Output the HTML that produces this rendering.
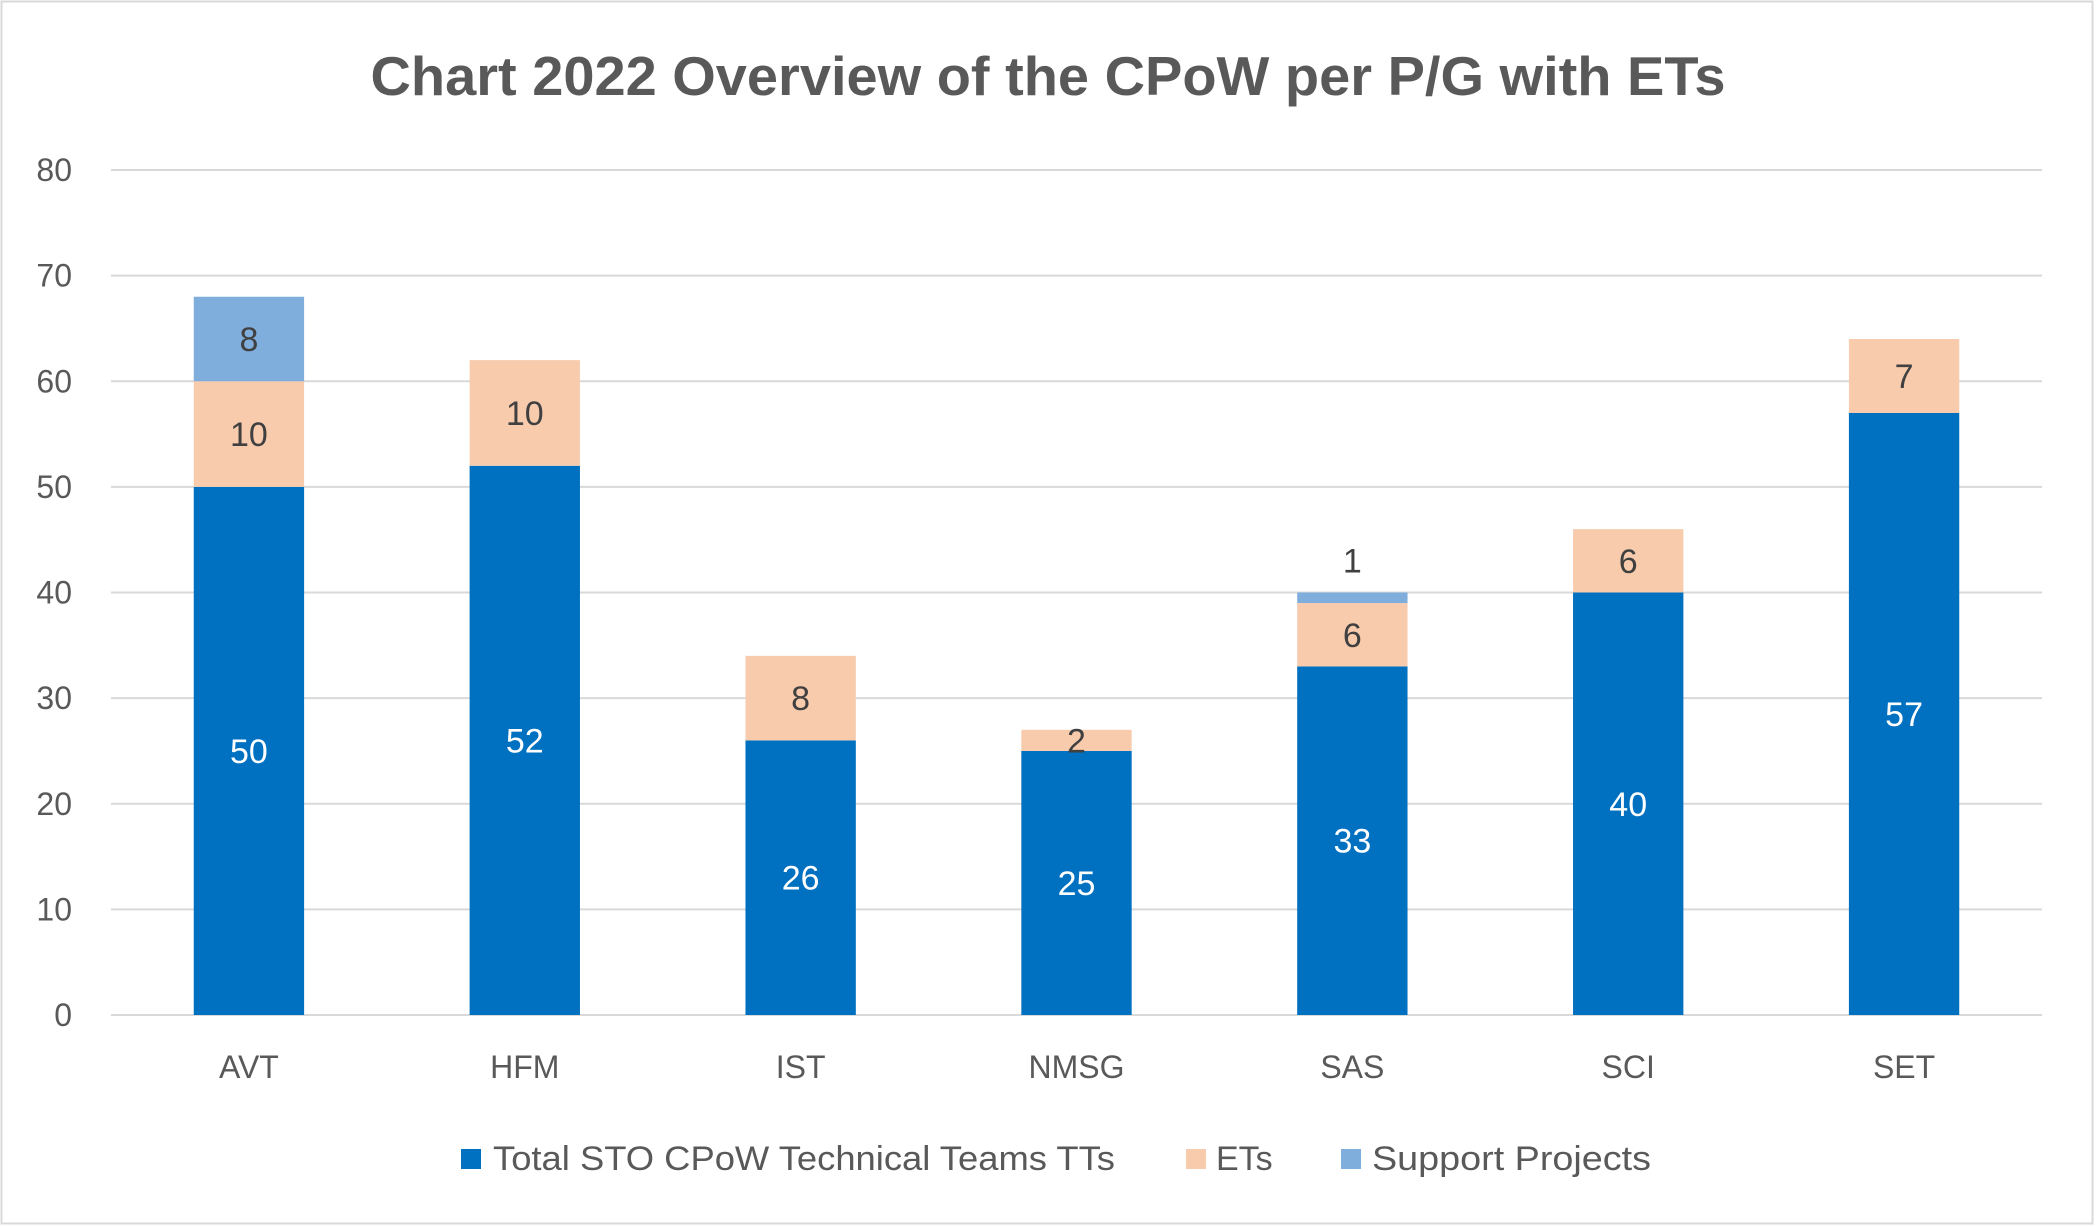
<!DOCTYPE html>
<html><head><meta charset="utf-8"><style>
html,body{margin:0;padding:0;background:#fff;}
#wrap{position:relative;width:2096px;height:1226px;overflow:hidden;}
svg{position:absolute;left:0;top:0;font-family:"Liberation Sans",sans-serif;}
</style></head><body>
<div id="wrap">
<svg id="chart" width="2096" height="1226">
<rect x="1.5" y="1.5" width="2091" height="1222" fill="#fff" stroke="#d9d9d9" stroke-width="2"/>
<text x="1048" y="95" text-anchor="middle" font-size="55" font-weight="bold" fill="#595959" textLength="1355" lengthAdjust="spacingAndGlyphs">Chart 2022 Overview of the CPoW per P/G with ETs</text>
<g id="grid"></g><g id="bars"></g><g id="labels"></g>
<g>
<rect x="461" y="1149" width="20" height="20" fill="#0070C0"/>
<text x="493" y="1170" font-size="34" fill="#595959" textLength="622" lengthAdjust="spacingAndGlyphs">Total STO CPoW Technical Teams TTs</text>
<rect x="1186" y="1149" width="20" height="20" fill="#F8CBAD"/>
<text x="1216" y="1170" font-size="34" fill="#595959">ETs</text>
<rect x="1341" y="1149" width="20" height="20" fill="#7FAEDD"/>
<text x="1372" y="1170" font-size="34" fill="#595959" textLength="279" lengthAdjust="spacingAndGlyphs">Support Projects</text>
</g>
</svg></div>
<script>
const categories=["AVT","HFM","IST","NMSG","SAS","SCI","SET"];
const ttsValues=[50,52,26,25,33,40,57];
const etsValues=[10,10,8,2,6,6,7];
const supportValues=[8,0,0,0,1,0,0];
const yTicks=[0,10,20,30,40,50,60,70,80];
const NS="http://www.w3.org/2000/svg";
const L=111,R=2042,T=170,B=1015,YMAX=80;
const y=v=>B-(v/YMAX)*(B-T);
const band=(R-L)/categories.length;
const xc=i=>L+band*(i+0.5);
const bw=band*0.4;
function mk(tag,attrs,parent){const e=document.createElementNS(NS,tag);for(const k in attrs)e.setAttribute(k,attrs[k]);parent.appendChild(e);return e;}
const grid=document.getElementById('grid'),bars=document.getElementById('bars'),labels=document.getElementById('labels');
yTicks.forEach(t=>{
 const ln=mk('line',{x1:L,x2:R,y1:y(t),y2:y(t),stroke:'#d9d9d9','stroke-width':2},grid);
 
 
 const tx=mk('text',{x:72,y:y(t)+11,'text-anchor':'end','font-size':32,fill:'#595959'},grid);
 tx.textContent=t;
 
 
});
const series=[{vals:ttsValues,color:'#0070C0',lab:'#fff',name:'tts'},{vals:etsValues,color:'#F8CBAD',lab:'#404040',name:'ets'},{vals:supportValues,color:'#7FAEDD',lab:'#404040',name:'support'}];
categories.forEach((c,i)=>{
 let base=0;
 series.forEach((s,si)=>{
  const v=s.vals[i];
  if(v>0){
   const r=mk('rect',{x:xc(i)-bw/2,y:y(base+v),width:bw,height:y(base)-y(base+v),fill:s.color},bars);
   
   
   let ly=(y(base)+y(base+v))/2+12;
   if(si===2 && y(base)-y(base+v)<20) ly=y(base+v)-20;
   const t=mk('text',{x:xc(i),y:ly,'text-anchor':'middle','font-size':34,fill:s.lab},labels);
   t.textContent=v;
   
   
  }
  base+=v;
 });
 const xt=mk('text',{x:xc(i),y:1078,'text-anchor':'middle','font-size':32,fill:'#595959'},grid);
 xt.textContent=c;
 
 
});
</script>
</body></html>
